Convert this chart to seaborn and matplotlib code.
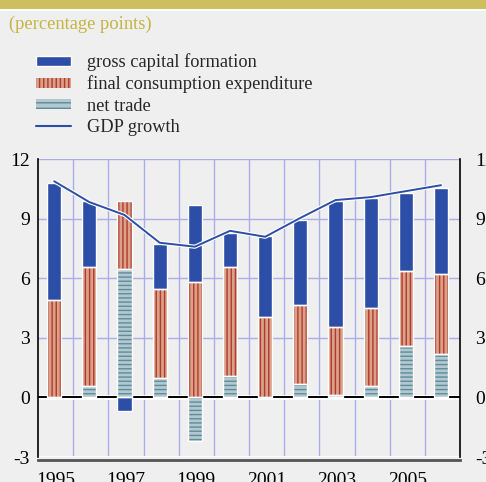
import numpy as np
import matplotlib
matplotlib.use("Agg")
import matplotlib.pyplot as plt
import matplotlib.patheffects as pe
from matplotlib.patches import Rectangle, Patch
from matplotlib.lines import Line2D
import seaborn as sns

# Data (percentage points)
years = [1995, 1996, 1997, 1998, 1999, 2000, 2001, 2002, 2003, 2004, 2005, 2006]
net_trade = [0.0, 0.6, 6.5, 1.0, -2.2, 1.1, 0.0, 0.7, 0.1, 0.6, 2.6, 2.2]
final_consumption = [4.9, 6.0, 3.4, 4.45, 5.8, 5.5, 4.05, 3.95, 3.45, 3.9, 3.75, 4.0]
gross_capital = [5.9, 3.3, -0.7, 2.3, 3.9, 1.7, 4.1, 4.3, 6.35, 5.55, 3.95, 4.35]
gdp_growth = [10.9, 9.85, 9.2, 7.8, 7.6, 8.4, 8.1, 9.05, 9.95, 10.1, 10.4, 10.7]
year_labels = ["1995", "", "1997", "", "1999", "", "2001", "", "2003", "", "2005", ""]
y_ticks = [-3, 0, 3, 6, 9, 12]

BG = "#efefef"
GOLD = "#cdbf60"
BLUE = "#2c4ea6"
SALMON = "#d9a08a"
RED = "#b23a2a"
TEAL_FACE = "#b3c7cf"
TEAL_LINE = "#5c8c9c"
GRID = "#a9aee9"

sns.set_theme(style="white")
plt.rcParams["font.family"] = ["Liberation Serif", "DejaVu Serif"]
plt.rcParams["hatch.linewidth"] = 1.0

fig = plt.figure(figsize=(4.86, 4.82), dpi=100, facecolor=BG)
ax = fig.add_axes([38 / 486, 1 - 457 / 482, (460 - 38) / 486, (457 - 159.4) / 482])
ax.set_facecolor(BG)

# header band and title
fig.patches.append(Rectangle((0, 1 - 9 / 482), 1, 9 / 482, transform=fig.transFigure,
                             facecolor=GOLD, edgecolor="none"))
fig.patches.append(Rectangle((0, 1 - 11 / 482), 1, 2 / 482, transform=fig.transFigure,
                             facecolor="white", edgecolor="none"))
fig.text(9 / 486, 1 - 24 / 482, "(percentage points)", color="#c4b444",
         fontsize=13.3, va="center", ha="left")

x = np.arange(len(years))
nt = np.array(net_trade)
fc = np.array(final_consumption)
gc = np.array(gross_capital)

# stack positives upward, negatives downward
pos_base = np.zeros(len(x))
neg_base = np.zeros(len(x))
layers = [
    (nt, TEAL_FACE, TEAL_LINE, "----"),
    (fc, SALMON, RED, "||||"),
    (gc, BLUE, BLUE, None),
]
width = 0.4
for vals, face, hcol, hatch in layers:
    bottoms = np.where(vals >= 0, pos_base, neg_base)
    ax.bar(x - 0.04, vals, width=width, bottom=bottoms, color=face, edgecolor=hcol,
           linewidth=0, hatch=hatch, zorder=3)
    ax.bar(x - 0.04, vals, width=width, bottom=bottoms, fill=False, edgecolor="white",
           linewidth=1.0, zorder=4)
    pos_base = pos_base + np.where(vals > 0, vals, 0)
    neg_base = neg_base + np.where(vals < 0, vals, 0)

# GDP growth line
sns.lineplot(x=x - 0.04, y=gdp_growth, ax=ax, color=BLUE, linewidth=1.4, zorder=5,
             path_effects=[pe.Stroke(linewidth=3, foreground="white"), pe.Normal()])

# zero line
ax.axhline(0, color="white", linewidth=3.5, zorder=2)
ax.axhline(0, color="black", linewidth=1.4, zorder=2.5)
ax.axhline(-3, color="white", linewidth=2, zorder=2)

ax.set_xlim(-0.5, len(x) - 0.5)
ax.set_ylim(-3, 12)
ax.set_yticks(y_ticks)
ax.set_yticklabels([str(t) for t in y_ticks])
ax.set_xticks(x)
ax.set_xticklabels(year_labels)
ax.set_xticks(np.arange(-0.5, len(x)), minor=True)

ax.grid(False)
for v in np.arange(0.5, len(x) - 0.5):
    ax.axvline(v, color=GRID, linewidth=1, zorder=1)
for h in [3, 6, 9, 12]:
    ax.axhline(h, color=GRID, linewidth=1, zorder=1)

ax.tick_params(axis="x", which="major", length=0, pad=9, labelsize=14, colors="black")
ax.tick_params(axis="x", which="minor", length=5, width=1.2, direction="out", color="black")
ax.tick_params(axis="y", length=0, pad=6, labelsize=14, colors="black")

# right-hand labels
ax_r = ax.twinx()
ax_r.set_ylim(ax.get_ylim())
ax_r.set_yticks(y_ticks)
ax_r.set_yticklabels([str(t) for t in y_ticks])
ax_r.tick_params(axis="y", length=0, pad=11, labelsize=14, colors="black")
ax_r.grid(False)
for s in ax_r.spines.values():
    s.set_visible(False)

for side in ["left", "right"]:
    ax.spines[side].set_color("black")
    ax.spines[side].set_linewidth(1.2)
ax.spines["top"].set_visible(False)
ax.spines["bottom"].set_color("#555555")
ax.spines["bottom"].set_linewidth(2)
ax.spines["bottom"].set_position(("outward", 2))

# legend
handles = [
    Patch(facecolor=BLUE, edgecolor="white", linewidth=1),
    Patch(facecolor=SALMON, edgecolor=RED, linewidth=0, hatch="||||"),
    Patch(facecolor=TEAL_FACE, edgecolor=TEAL_LINE, linewidth=0, hatch="---"),
    Line2D([], [], color=BLUE, linewidth=1.5),
]
labels = ["gross capital formation", "final consumption expenditure", "net trade", "GDP growth"]
fig.legend(handles, labels, loc="upper left", bbox_to_anchor=(29 / 486, 1 - 46 / 482),
           frameon=False, fontsize=13.2, handlelength=1.9, handleheight=0.45,
           handletextpad=0.85, labelspacing=0.23, borderaxespad=0)

fig.savefig("out.png", dpi=100, facecolor=BG)
